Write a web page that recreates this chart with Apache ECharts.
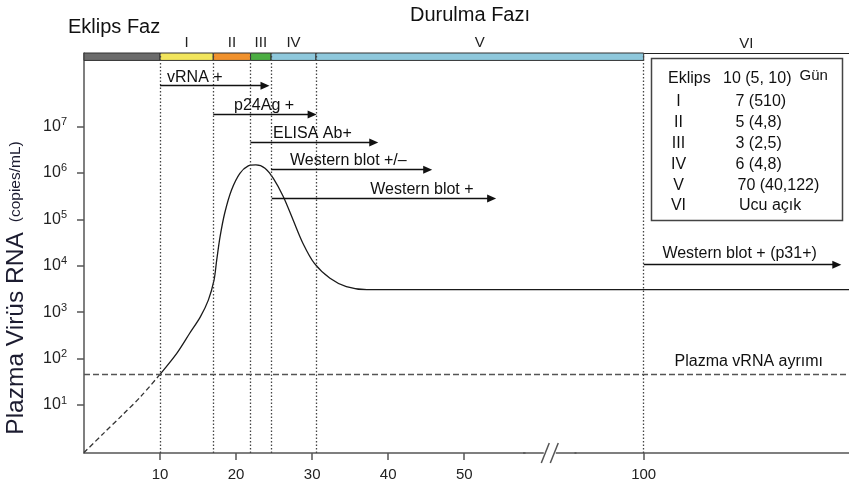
<!DOCTYPE html>
<html><head><meta charset="utf-8">
<script src="https://cdn.jsdelivr.net/npm/echarts@6/dist/echarts.min.js"></script>
<style>html,body{margin:0;padding:0;background:#fff}#c{width:849px;height:489px}</style>
</head><body><div id="c"></div>
<script>
const FONT = '"Liberation Sans", Arial, Helvetica, sans-serif';

// ---- data ----
const xTickValues = [10, 20, 30, 40, 50, 100];
const yTickValues = [10, 100, 1000, 10000, 100000, 1000000, 10000000];

const phaseNames  = ['', 'I', 'II', 'III', 'IV', 'V', 'VI'];
const phaseStarts = [0, 10, 17, 21.9, 24.6, 30.5, 100];
const phaseEnds   = [10, 17, 21.9, 24.6, 30.5, 100, 127];
const phaseColors = ['#6b6b6b', '#f2e55c', '#f0912d', '#4cae43', '#8ec8dc', '#8ec8dc', 'rgba(0,0,0,0)'];

const dashDays   = [0, 2.5, 5, 7.5, 10];
const dashCopies = [0.95, 2.4, 6.0, 15.5, 46];

const rnaDays   = [10, 12.2, 13.9, 15.3, 16.35, 17.1, 17.45, 17.9, 18.5, 19.4, 20.5, 21.6, 22.6, 23.8, 24.9, 26.2, 27.5, 28.8, 30.3, 32.35, 34.5, 37.2, 127];
const rnaCopies = [46, 130, 352, 794, 1820, 4900, 13200, 42700, 135000, 427000, 977000, 1410000, 1480000, 1260000, 759000, 309000, 96600, 30200, 11200, 5370, 3550, 3050, 3050];

const threshold = 46;
const thresholdLabel = 'Plazma vRNA ayrımı';

const arrowNames  = ['vRNA +', 'p24Ag +', 'ELISA Ab+', 'Western blot +/–', 'Western blot +', 'Western blot + (p31+)'];
const arrowStart  = [10, 17, 21.9, 24.6, 24.7, 100];
const arrowEnd    = [23.8, 30, 38.1, 45.2, 53.6, 125.4];
const arrowLevel  = [7.5e7, 1.8e7, 4.5e6, 1.17e6, 2.8e5, 1.05e4];

const tableLabels = ['Eklips', 'I', 'II', 'III', 'IV', 'V', 'VI'];
const tableValues = ['10 (5, 10)', '7 (510)', '5 (4,8)', '3 (2,5)', '6 (4,8)', '70 (40,122)', 'Ucu açık'];

// ---- axis extents ----
const xMin = 0, xMax = 127;
const yMin = 0.93, yMax = 3.8e8, barBottom = 2.63e8;
const axisBreak = { start: 58, end: 90.9, gap: 6.5 };

// ---- layout ----
const W = 849, H = 489;
const G = { left: 84, right: 0, top: 53, bottom: 36 };
const gridW = W - G.left - G.right;
const effSpan = (xMax - xMin) - (axisBreak.end - axisBreak.start) + axisBreak.gap;
const breakMidX = G.left + gridW * (axisBreak.start + axisBreak.gap / 2 - xMin) / effSpan;
const breakHalfW = gridW * axisBreak.gap / effSpan / 2 + 2;
const baseY = H - G.bottom;

const chart = echarts.init(document.getElementById('c'), null, { renderer: 'canvas' });

const phaseAreas = phaseNames.map((n, i) => [
  { name: n, xAxis: phaseStarts[i], yAxis: barBottom,
    itemStyle: { color: phaseColors[i], borderColor: i === 6 ? 'rgba(0,0,0,0)' : '#333', borderWidth: i === 6 ? 0 : 1 } },
  { xAxis: phaseEnds[i], yAxis: yMax }
]);

const labelDist = [[7, 0], [18, 1], [22, 1], [21, 1], [18, 1], [20, 3]];
const arrowLines = arrowNames.map((n, i) => [
  { name: n, coord: [arrowStart[i], arrowLevel[i]],
    label: { position: i === 0 ? 'insideStartTop' : 'insideEndTop', distance: labelDist[i] } },
  { coord: [arrowEnd[i], arrowLevel[i]] }
]);

const baseX = {
  type: 'value', min: xMin, max: xMax,
  breaks: [axisBreak],
  breakArea: { show: false },
  splitLine: { show: false }
};

const rowY = [20, 43, 64.5, 85.5, 106.5, 127, 147.5];
const valX = [71.5, 84, 84, 84, 84, 86, 87.5];

const option = {
  animation: false,
  backgroundColor: '#fff',
  textStyle: { fontFamily: FONT },
  title: [
    { text: 'Eklips Faz', left: 68, top: 17, padding: 0,
      textStyle: { fontSize: 20, fontWeight: 'normal', color: '#111', fontFamily: FONT } },
    { text: 'Durulma Fazı', left: 410, top: 5, padding: 0,
      textStyle: { fontSize: 20, fontWeight: 'normal', color: '#111', fontFamily: FONT } }
  ],
  grid: Object.assign({ containLabel: false }, G),
  xAxis: [
    Object.assign({}, baseX, {
      position: 'bottom',
      axisLine: { onZero: false, lineStyle: { color: '#555', width: 1.5 } },
      axisTick: { show: true, length: 7, customValues: xTickValues, lineStyle: { color: '#555', width: 1.5 } },
      axisLabel: { customValues: xTickValues, fontSize: 15, color: '#222', margin: 14, fontFamily: FONT }
    }),
    Object.assign({}, baseX, {
      position: 'top',
      axisLine: { onZero: false, lineStyle: { color: '#222', width: 1.2 } },
      axisTick: { show: false },
      axisLabel: { show: false }
    })
  ],
  yAxis: {
    type: 'log', logBase: 10, min: yMin, max: yMax,
    splitLine: { show: false },
    axisLine: { show: true, onZero: false, lineStyle: { color: '#555', width: 1.5 } },
    axisTick: { show: true, length: 7, customValues: yTickValues, lineStyle: { color: '#555', width: 1.5 } },
    axisLabel: {
      customValues: yTickValues, margin: 17, fontFamily: FONT,
      formatter: v => '{b|10}{s|' + Math.round(Math.log10(v)) + '}',
      rich: {
        b: { fontSize: 16, lineHeight: 20, color: '#222', fontFamily: FONT },
        s: { fontSize: 11, lineHeight: 11, verticalAlign: 'top', color: '#222', fontFamily: FONT }
      }
    }
  },
  series: [
    {
      name: 'dashed', type: 'line', xAxisIndex: 0, silent: true,
      data: dashDays.map((d, i) => [d, dashCopies[i]]),
      smooth: 0.3, showSymbol: false, clip: false,
      lineStyle: { color: '#333', width: 1.3, type: [5, 3] },
      markArea: {
        silent: true,
        label: { show: true, position: 'top', distance: 2, fontSize: 15, color: '#222', fontFamily: FONT },
        data: phaseAreas
      },
      markLine: {
        silent: true, symbol: ['none', 'none'],
        label: { show: false },
        lineStyle: { color: '#444', width: 1.3, type: [1.5, 2] },
        data: phaseStarts.slice(1).map(v => ({ xAxis: v }))
      }
    },
    {
      name: 'rna', type: 'line', xAxisIndex: 0, silent: true,
      data: rnaDays.map((d, i) => [d, rnaCopies[i]]),
      smooth: 0.3, showSymbol: false,
      lineStyle: { color: '#1a1a1a', width: 1.3 },
      markLine: {
        silent: true, symbol: ['none', 'none'],
        lineStyle: { color: '#555', width: 1.3, type: [6, 3] },
        label: { show: true, position: 'insideEndTop', distance: [26, 5], formatter: '{b}', fontSize: 16, color: '#111', fontFamily: FONT },
        data: [{ name: thresholdLabel, yAxis: threshold }]
      }
    },
    {
      name: 'arrows', type: 'line', xAxisIndex: 0, silent: true, data: [], clip: false,
      markLine: {
        silent: true, symbol: ['none', 'triangle'], symbolSize: [8, 9],
        lineStyle: { color: '#111', width: 1.3, type: 'solid' },
        label: { show: true, formatter: '{b}', fontSize: 16, color: '#111', fontFamily: FONT },
        data: arrowLines
      }
    }
  ],
  graphic: [
    {
      id: 'ytitle', type: 'text', x: 16, y: 288, rotation: Math.PI / 2,
      style: {
        text: '{a|Plazma Virüs RNA}   {b|(copies/mL)}',
        align: 'center', verticalAlign: 'middle', fill: '#1c1c30',
        rich: {
          a: { fontSize: 24.5, fontFamily: FONT, fill: '#1c1c30' },
          b: { fontSize: 15.5, fontFamily: FONT, fill: '#1c1c30' }
        }
      }
    },
    {
      id: 'table', type: 'group', x: 651.5, y: 58.5,
      children: [
        { type: 'rect', shape: { x: 0, y: 0, width: 191, height: 162 }, style: { fill: '#fff', stroke: '#444', lineWidth: 1.5 } },
        { type: 'text', x: 148, y: 17, style: { text: 'Gün', fontSize: 15, fontFamily: FONT, fill: '#111', align: 'left', verticalAlign: 'middle' } }
      ].concat(tableLabels.map((t, i) => ({
        type: 'text', x: i === 0 ? 16.5 : 27, y: rowY[i],
        style: { text: t, fontSize: 16, fontFamily: FONT, fill: '#111', align: i === 0 ? 'left' : 'center', verticalAlign: 'middle' }
      }))).concat(tableValues.map((t, i) => ({
        type: 'text', x: valX[i], y: rowY[i],
        style: { text: t, fontSize: 16, fontFamily: FONT, fill: '#111', align: 'left', verticalAlign: 'middle' }
      })))
    },
    {
      id: 'brkL', type: 'rect', z: 1000, zlevel: 1,
      shape: { x: breakMidX - breakHalfW, y: baseY - 0.75, width: breakHalfW - 6, height: 1.5 },
      style: { fill: '#555' }
    },
    {
      id: 'brkR', type: 'rect', z: 1000, zlevel: 1,
      shape: { x: breakMidX + 6, y: baseY - 0.75, width: breakHalfW - 6, height: 1.5 },
      style: { fill: '#555' }
    },
    {
      id: 'brkS1', type: 'line', z: 1001, zlevel: 1,
      shape: { x1: breakMidX - 8.5, y1: baseY + 10, x2: breakMidX - 0.5, y2: baseY - 10 },
      style: { stroke: '#555', lineWidth: 1.5 }
    },
    {
      id: 'brkS2', type: 'line', z: 1001, zlevel: 1,
      shape: { x1: breakMidX + 0.5, y1: baseY + 10, x2: breakMidX + 8.5, y2: baseY - 10 },
      style: { stroke: '#555', lineWidth: 1.5 }
    }
  ]
};

chart.setOption(option);
</script>
</body></html>
